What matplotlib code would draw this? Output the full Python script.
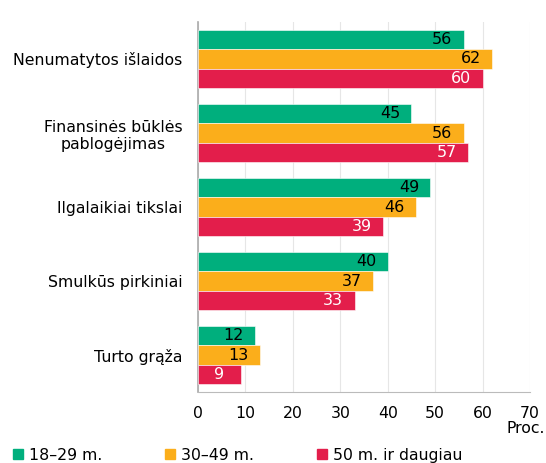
import numpy as np
from matplotlib import pyplot as plt
from matplotlib.lines import Line2D

categories = ['Nenumatytos išlaidos', 'Finansinės būklės\npablogėjimas',
              'Ilgalaikiai tikslai', 'Smulkūs pirkiniai', 'Turto grąža']
series_names = ['18–29 m.', '30–49 m.', '50 m. ir daugiau']
young = [56, 45, 49, 40, 12]
middle = [62, 56, 46, 37, 13]
older = [60, 57, 39, 33, 9]

colors = ['#00AF7D', '#FBAE1B', '#E31E4B']
label_colors = ['black', 'black', 'white']

plt.rcParams['font.family'] = 'DejaVu Sans'
fig = plt.figure(figsize=(5.46, 4.63), dpi=100)
ax = fig.add_axes([0.3626, 0.1533, 0.6081, 0.7992])

y = np.arange(len(categories))
h = 0.26
for i, vals in enumerate([young, middle, older]):
    pos = y + (i - 1) * h
    ax.barh(pos, vals, height=h, color=colors[i], edgecolor='white',
            linewidth=0.4, zorder=3)
    for p, v in zip(pos, vals):
        x = max(v / 2, v - 4.5)
        ax.text(x, p, str(v), ha='center', va='center', fontsize=11.5,
                color=label_colors[i], zorder=4)

ax.set_ylim(4.5, -0.5)
ax.set_xlim(0, 70)
ax.set_xticks(range(0, 71, 10))
ax.set_yticks(y)
ax.set_yticklabels(categories, fontsize=11.3, multialignment='center')
ax.tick_params(length=0, labelsize=11.3)
ax.tick_params(axis='x', pad=10)
ax.tick_params(axis='y', pad=11)
ax.grid(axis='x', color='#e6e6e6', linewidth=0.8, zorder=0)
for s in ['top', 'right']:
    ax.spines[s].set_visible(False)
ax.spines['left'].set_color('#aaaaaa')
ax.spines['bottom'].set_color('#bbbbbb')
ax.spines['left'].set_linewidth(1.2)

fig.text(0.999, 0.074, 'Proc.', ha='right', va='center', fontsize=11.3)

handles = [Line2D([], [], marker='s', linestyle='', color=c, markersize=7.5)
           for c in colors]
fig.legend(handles, series_names, loc='lower left', bbox_to_anchor=(-0.008, -0.03),
           ncol=3, frameon=False, fontsize=11.3, handletextpad=0.2,
           columnspacing=3.85, handlelength=1.0)

fig.savefig('out.png', dpi=100)
